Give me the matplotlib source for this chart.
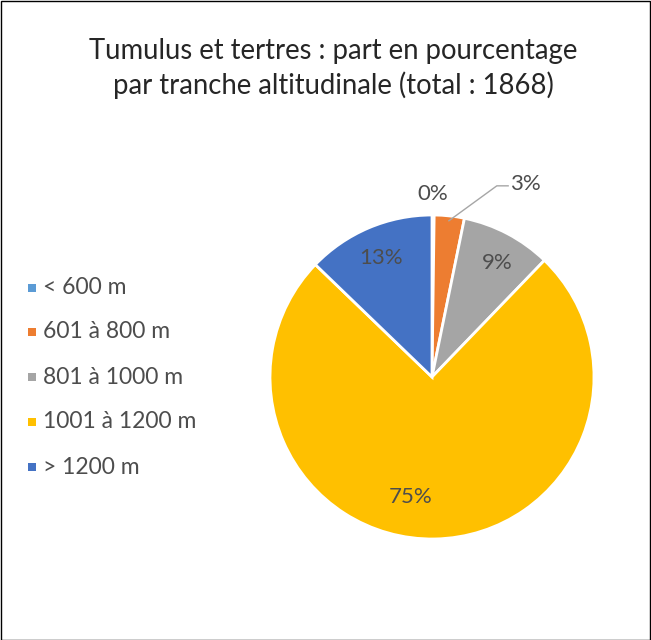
import matplotlib
matplotlib.use("Agg")
import matplotlib.pyplot as plt
import numpy as np
from matplotlib.patches import Rectangle

plt.rcParams["font.family"] = ["Lato", "DejaVu Sans"]

TITLE = "Tumulus et tertres : part en pourcentage\npar tranche altitudinale (total : 1868)"
CATEGORIES = ["< 600 m", "601 à 800 m", "801 à 1000 m", "1001 à 1200 m", "> 1200 m"]
COUNTS = [4, 56, 168, 1401, 239]
COLORS = ["#5B9BD5", "#ED7D31", "#A5A5A5", "#FFC000", "#4472C4"]

# label placement: (radius factor, angle shift in degrees) per slice
LABEL_POS = [(1.13, 0.0), (None, 0.0), (0.81, -2.0), (0.75, -11.0), (0.80, 0.0)]

W, H = 651, 640
fig = plt.figure(figsize=(W / 100, H / 100), dpi=100)
fig.patch.set_facecolor("white")

cx, cy, r = 432, 377, 162
ax = fig.add_axes([(cx - r) / W, (H - cy - r) / H, 2 * r / W, 2 * r / H])
wedges, _ = ax.pie(
    COUNTS,
    colors=COLORS,
    startangle=90,
    counterclock=False,
    radius=1.0,
    wedgeprops=dict(edgecolor="white", linewidth=2.0),
)
ax.set_xlim(-1, 1)
ax.set_ylim(-1, 1)
ax.set_aspect("equal")
ax.axis("off")

total = sum(COUNTS)
text_color = "#4D4D4D"
for w, n, (rf, shift) in zip(wedges, COUNTS, LABEL_POS):
    pct = f"{round(n / total * 100):d}%"
    mid = np.deg2rad((w.theta1 + w.theta2) / 2 + shift)
    if rf is None:
        # small slice: label outside with a leader line
        x0, y0 = 0.97 * np.cos(mid), 0.97 * np.sin(mid)
        ax.plot([x0, 0.40, 0.47], [y0, 1.18, 1.18], color="#A6A6A6",
                lw=1.0, clip_on=False)
        ax.text(0.48, 1.19, pct, ha="left", va="center", fontsize=16,
                color=text_color, clip_on=False)
        continue
    ax.text(rf * np.cos(mid), rf * np.sin(mid), pct, ha="center", va="center",
            fontsize=16, color=text_color, clip_on=False)

fig.text(0.512, 0.893, TITLE, ha="center", va="center", fontsize=19.8,
         color="#262626", linespacing=1.3)

ys = [288, 332, 377, 422, 467]
for name, color, y in zip(CATEGORIES, COLORS, ys):
    fig.patches.append(Rectangle((28 / W, 1 - (y + 4) / H), 8 / W, 8 / H,
                                 transform=fig.transFigure, facecolor=color,
                                 edgecolor="none"))
    fig.text(43 / W, 1 - y / H, name, ha="left", va="center", fontsize=16.5,
             color=text_color)

fig.patches.append(Rectangle((0.5 / W, 0.5 / H), 1 - 1.5 / W, 1 - 1.5 / H,
                             transform=fig.transFigure, facecolor="none",
                             edgecolor="black", linewidth=1.0))

fig.savefig("out.png", dpi=100, facecolor="white")
